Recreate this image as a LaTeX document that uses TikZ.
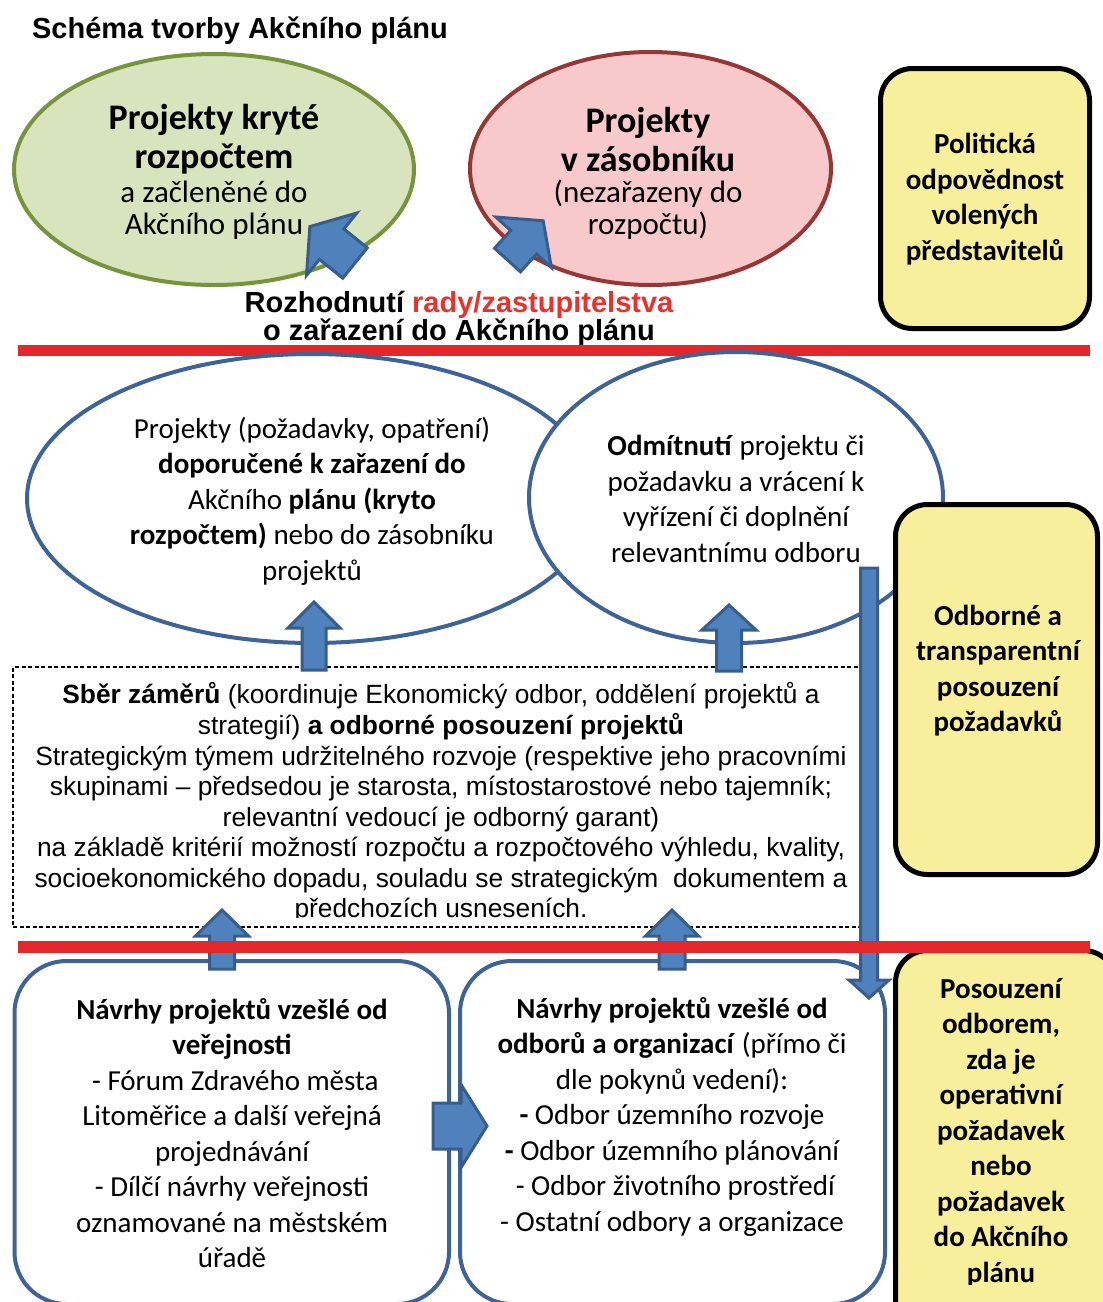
\documentclass[tikz,border=0pt]{standalone}
\usepackage{fontspec}
\setmainfont{Carlito}
\newfontfamily\arialfont{Liberation Sans}
\usetikzlibrary{shapes.geometric}

\definecolor{arrowfill}{HTML}{4F81BD}
\definecolor{arrowline}{HTML}{385D8A}
\definecolor{ovalline}{HTML}{3E6497}
\definecolor{greenfill}{HTML}{D7E4BD}
\definecolor{greenline}{HTML}{77933C}
\definecolor{pinkfill}{HTML}{F7C9CA}
\definecolor{pinkline}{HTML}{953735}
\definecolor{notefill}{HTML}{F7EF9B}
\definecolor{redbar}{HTML}{E3272B}
\definecolor{redtext}{HTML}{E8322E}

\tikzset{
  oval/.style={ellipse, draw=ovalline, line width=4pt, fill=white, inner sep=0pt},
  card/.style={draw=ovalline, line width=4pt, fill=white, rounded corners=52pt, inner sep=0pt},
  note/.style={draw=black, line width=5pt, fill=notefill, rounded corners=32pt, inner sep=0pt},
  body/.style={font=\fontsize{29}{35.5}\selectfont, align=center, inner sep=0pt},
  bodybold/.style={font=\bfseries\fontsize{29}{35.5}\selectfont, align=center, inner sep=0pt},
  barrow/.style={fill=arrowfill, draw=arrowline, line width=3pt, line join=miter},
  redrule/.style={draw=redbar, line width=11.5pt},
}

% block arrow: #1 tail point, #2 direction (deg), #3 length,
% #4 shaft width, #5 head width, #6 head length, #7 name of the tip
\newcommand\blockarrow[7]{%
  \begin{scope}[shift={(#1)},rotate=#2]
    \draw[barrow] (0,-#4/2) -- (#3-#6,-#4/2) -- (#3-#6,-#5/2) -- (#3,0) coordinate (#7)
      -- (#3-#6,#5/2) -- (#3-#6,#4/2) -- (0,#4/2) -- cycle;
  \end{scope}}

\begin{document}
\begin{tikzpicture}[x=1pt,y=-1pt]
\useasboundingbox (0,0) rectangle (1103,1302);
\clip (0,0) rectangle (1103,1302);

% title
\node[font=\arialfont\bfseries\fontsize{29}{34}\selectfont, inner sep=0pt] (title) at (240,31) {Schéma tvorby Akčního plánu};

% top ellipses
\node[ellipse, draw=greenline, fill=greenfill, line width=4pt, minimum width=400pt, minimum height=231pt, inner sep=0pt] (covered) at (214,169.5) {};
\node[font=\bfseries\fontsize{36}{39}\selectfont, align=center, inner sep=0pt] (coveredA) at (214,139.5) {Projekty kryté\\rozpočtem};
\node[font=\fontsize{31}{32}\selectfont, align=center, inner sep=0pt] (coveredB) at (214,210) {a začleněné do\\Akčního plánu};

\node[ellipse, draw=pinkline, fill=pinkfill, line width=4pt, minimum width=361pt, minimum height=233pt, inner sep=0pt] (stock) at (650.5,168.5) {};
\node[font=\bfseries\fontsize{36}{39}\selectfont, align=center, inner sep=0pt] (stockA) at (648,139) {Projekty\\v zásobníku};
\node[font=\fontsize{31}{32}\selectfont, align=center, inner sep=0pt] (stockB) at (648,210) {(nezařazeny do\\rozpočtu)};

% decision arrows into the top ellipses
\blockarrow{355,263}{141.1}{58}{39}{80}{28}{tipcovered}
\blockarrow{507.5,260}{47.7}{53}{35}{75}{29}{tipstock}

% political responsibility
\node[note, minimum width=209pt, minimum height=260pt] (politics) at (985,198.5) {};
\node[bodybold] (politicsT) at (985,199) {Politická\\odpovědnost\\volených\\představitelů};

% council decision
\node[font=\arialfont\bfseries\fontsize{29}{28}\selectfont, align=center, inner sep=0pt] (decision) at (459,319)
  {Rozhodnutí \textcolor{redtext}{rady/zastupitelstva}\\o zařazení do Akčního plánu};

% upper rule
\coordinate (ruleAl) at (18,350.5);
\coordinate (ruleAr) at (1090,350.5);
\draw[redrule] (ruleAl) -- (ruleAr);

% outcome ellipses
\node[oval, minimum width=570pt, minimum height=289pt] (recommended) at (312,498.5) {};
\node[oval, minimum width=414pt, minimum height=291pt] (rejected) at (736,497.5) {};
\node[body] (recommendedT) at (312,501) {Projekty (požadavky, opatření)\\
  \textbf{doporučené k zařazení do}\\
  Akčního \textbf{plánu (kryto}\\
  \textbf{rozpočtem)} nebo do zásobníku\\
  projektů};
\node[body] (rejectedT) at (736,499) {\textbf{Odmítnutí} projektu či\\
  požadavku a vrácení k\\
  vyřízení či doplnění\\
  relevantnímu odboru};

% expert assessment
\node[note, minimum width=202pt, minimum height=370pt] (review) at (996.5,689.5) {};
\node[bodybold] (reviewT) at (998,670.5) {Odborné a\\transparentní\\posouzení\\požadavků};

% collection of intentions
\node[draw=black, line width=1.3pt, dash pattern=on 4pt off 2.5pt, minimum width=848pt, minimum height=260pt, inner sep=0pt] (collect) at (437,797) {};
\begin{scope}
  \clip (13,667) rectangle (861,917);
  \node[font=\arialfont\fontsize{26.35}{30.6}\selectfont, align=center, inner sep=0pt] (collectT) at (441,803)
    {\textbf{Sběr záměrů} (koordinuje Ekonomický odbor, oddělení projektů a\\
     strategií) \textbf{a odborné posouzení projektů}\\
     Strategickým týmem udržitelného rozvoje (respektive jeho pracovními\\
     skupinami – předsedou je starosta, místostarostové nebo tajemník;\\
     relevantní vedoucí je odborný garant)\\
     na základě kritérií možností rozpočtu a rozpočtového výhledu, kvality,\\
     socioekonomického dopadu, souladu se strategickým\ \ dokumentem a\\
     předchozích usneseních.};
\end{scope}

\blockarrow{314,670}{90}{68}{24}{52}{26}{tiprecommended}
\blockarrow{729,671}{90}{66}{25}{54}{25}{tiprejected}

% proposals
\node[card, minimum width=434.5pt, minimum height=343pt] (public) at (231.75,1132.5) {};
\node[card, minimum width=425pt, minimum height=343pt] (offices) at (672.5,1132.5) {};
\node[body] (publicT) at (232,1133) {\textbf{Návrhy projektů vzešlé od}\\
  \textbf{veřejnosti}\\
  \ - Fórum Zdravého města\\
  Litoměřice a další veřejná\\
  projednávání\\
  - Dílčí návrhy veřejnosti\\
  oznamované na městském\\
  úřadě};
\node[body] (officesT) at (672,1116.5) {\textbf{Návrhy projektů vzešlé od}\\
  \textbf{odborů a organizací} (přímo či\\
  dle pokynů vedení):\\
  \textbf{-} Odbor územního rozvoje\\
  \textbf{-} Odbor územního plánování\\
  \ - Odbor životního prostředí\\
  - Ostatní odbory a organizace};

% operative assessment
\node[note, minimum width=220pt, minimum height=380pt] (operative) at (1005.5,1140.5) {};
\begin{scope}
  \clip (895,950) rectangle (1103,1284);
  \node[bodybold] (operativeT) at (1001,1132.5) {Posouzení\\odborem,\\zda je\\operativní\\požadavek\\nebo\\požadavek\\do Akčního\\plánu};
\end{scope}

\blockarrow{222,969}{90}{59}{25}{53}{26}{tippublic}
\blockarrow{672,969}{90}{59}{26}{53}{26}{tipoffices}
\blockarrow{433,1126}{0}{54}{46}{83}{26}{tipforward}
\blockarrow{869,568}{-90}{430}{17}{40}{18}{tipreturn}

% lower rule
\coordinate (ruleBl) at (18,947);
\coordinate (ruleBr) at (1090,947);
\draw[redrule] (ruleBl) -- (ruleBr);
\end{tikzpicture}
\end{document}
